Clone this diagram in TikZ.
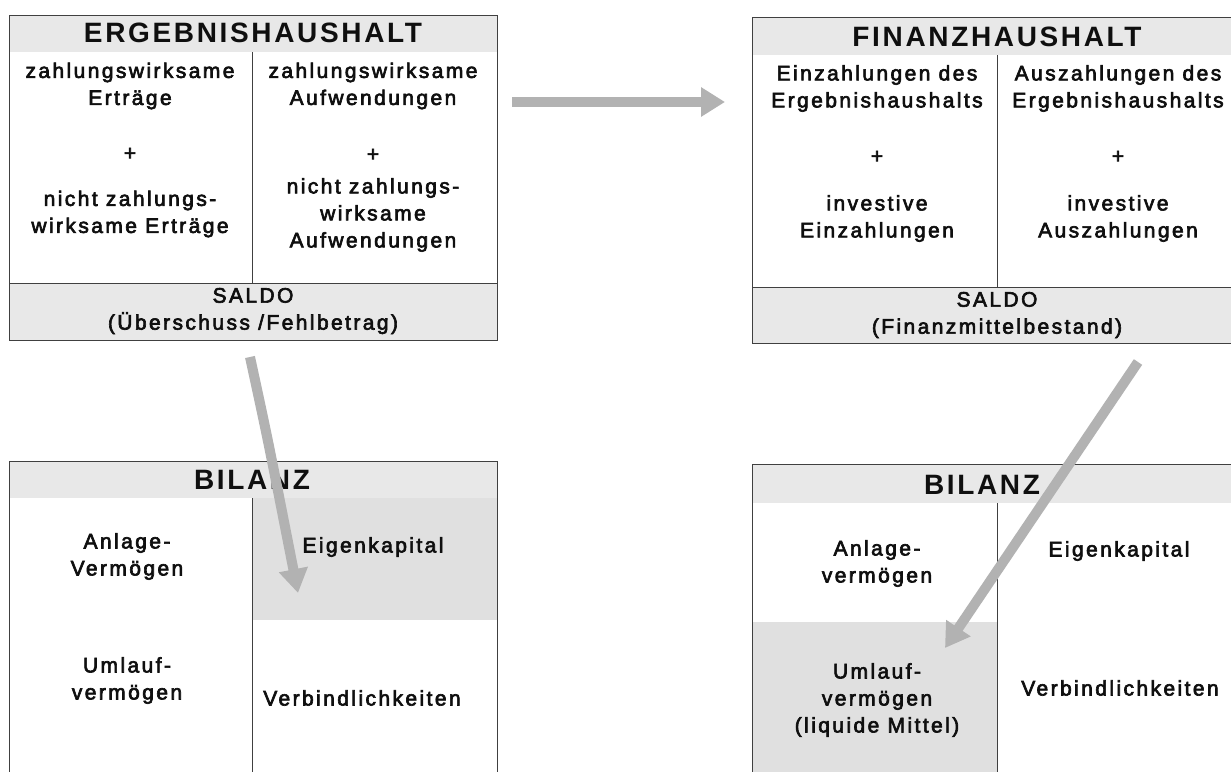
\documentclass[tikz,border=0pt]{standalone}
\usepackage{fontspec}
\setmainfont{Liberation Sans}
\newfontfamily\bodyf[LetterSpace=11.5,FakeBold=3]{Liberation Sans}
\newfontfamily\titlef[LetterSpace=9.5]{Liberation Sans}
\usetikzlibrary{arrows.meta}
\definecolor{linec}{gray}{0.25}
\definecolor{bandc}{gray}{0.91}
\definecolor{cellc}{gray}{0.88}
\definecolor{arrc}{gray}{0.70}
\definecolor{txtc}{gray}{0.06}
\tikzset{
  box/.style={draw=linec, line width=1pt},
  ttl/.style={font=\titlef\bfseries\fontsize{28}{30}\selectfont, text=txtc, inner sep=0pt},
  body/.style={font=\bodyf\fontsize{21}{27}\selectfont, text=txtc, align=center, inner sep=0pt},
  bigarrow/.style={draw=arrc, line width=10pt, -{Triangle[width=28pt,length=24pt]}},
}
\begin{document}
\begin{tikzpicture}[x=1pt,y=-1pt]
\useasboundingbox (0,0) rectangle (1231,771);
\clip (0,0) rectangle (1231,771);
\fill[white] (0,0) rectangle (1231,771);

% ---- top-left: Ergebnishaushalt
\fill[bandc] (9,15) rectangle (497,52);
\fill[bandc] (9,283) rectangle (497,340);
\draw[box] (9,15) rectangle (497,340);
\draw[box] (9,283) -- (497,283);
\draw[box] (252,52) -- (252,283);

% ---- top-right: Finanzhaushalt
\fill[bandc] (752,17) rectangle (1240,55);
\fill[bandc] (752,287) rectangle (1240,343);
\draw[box] (1240,17) -- (752,17) -- (752,343) -- (1240,343);
\draw[box] (752,287) -- (1240,287);
\draw[box] (997,55) -- (997,287);

% ---- bottom-left: Bilanz
\fill[bandc] (9,461) rectangle (497,498);
\fill[cellc] (252,498) rectangle (497,620);
\draw[box] (9,780) -- (9,461) -- (497,461) -- (497,780);
\draw[box] (252,498) -- (252,780);

% ---- bottom-right: Bilanz
\fill[bandc] (752,464) rectangle (1240,503);
\fill[cellc] (752,622) rectangle (997,780);
\draw[box] (752,780) -- (752,464) -- (1240,464);
\draw[box] (997,503) -- (997,780);

% ---- texts top-left
\node[ttl] (ehT) at (253,33) {ERGEBNISHAUSHALT};
\node[body] (ehL1) at (130,86) {zahlungswirksame\\Erträge};
\node[body] (ehLp) at (130,154) {+};
\node[body] (ehL2) at (130,214) {nicht zahlungs-\\wirksame Erträge};
\node[body] (ehR1) at (373,86) {zahlungswirksame\\Aufwendungen};
\node[body] (ehRp) at (373,155) {+};
\node[body] (ehR2) at (373,215) {nicht zahlungs-\\wirksame\\Aufwendungen};
\node[body] (ehS) at (253,311) {SALDO\\(Überschuss /Fehlbetrag)};

% ---- texts top-right
\node[ttl] (fhT) at (997,37) {FINANZHAUSHALT};
\node[body] (fhL1) at (877,88.5) {Einzahlungen des\\Ergebnishaushalts};
\node[body] (fhLp) at (877,157) {+};
\node[body] (fhL2) at (877,218.5) {investive\\Einzahlungen};
\node[body] (fhR1) at (1118,88.5) {Auszahlungen des\\Ergebnishaushalts};
\node[body] (fhRp) at (1118,157) {+};
\node[body] (fhR2) at (1118,218.5) {investive\\Auszahlungen};
\node[body] (fhS) at (997,315) {SALDO\\(Finanzmittelbestand)};

% ---- texts bottom-left
\node[ttl] (b1T) at (252,480) {BILANZ};
\node[body] (b1AV) at (127,556.5) {Anlage-\\Vermögen};
\node[body] (b1EK) at (373,547) {Eigenkapital};
\node[body] (b1UV) at (127,680.5) {Umlauf-\\vermögen};
\node[body] (b1VB) at (362,698) {Verbindlichkeiten};

% ---- texts bottom-right
\node[ttl] (b2T) at (982,485) {BILANZ};
\node[body] (b2AV) at (877,563.5) {Anlage-\\vermögen};
\node[body] (b2EK) at (1119,551) {Eigenkapital};
\node[body] (b2UV) at (877,700) {Umlauf-\\vermögen\\(liquide Mittel)};
\node[body] (b2VB) at (1120,688) {Verbindlichkeiten};

% ---- arrows
\coordinate (hS) at (512,102);
\coordinate (hE) at (725,102);
\coordinate (lS) at (250,357);
\coordinate (lE) at (298,593);
\coordinate (rS) at (1138,362);
\coordinate (rE) at (945,648);
\draw[bigarrow] (hS) -- (hE);
\draw[bigarrow] (lS) .. controls (268,440) .. (lE);
\draw[bigarrow] (rS) -- (rE);
\end{tikzpicture}
\end{document}
